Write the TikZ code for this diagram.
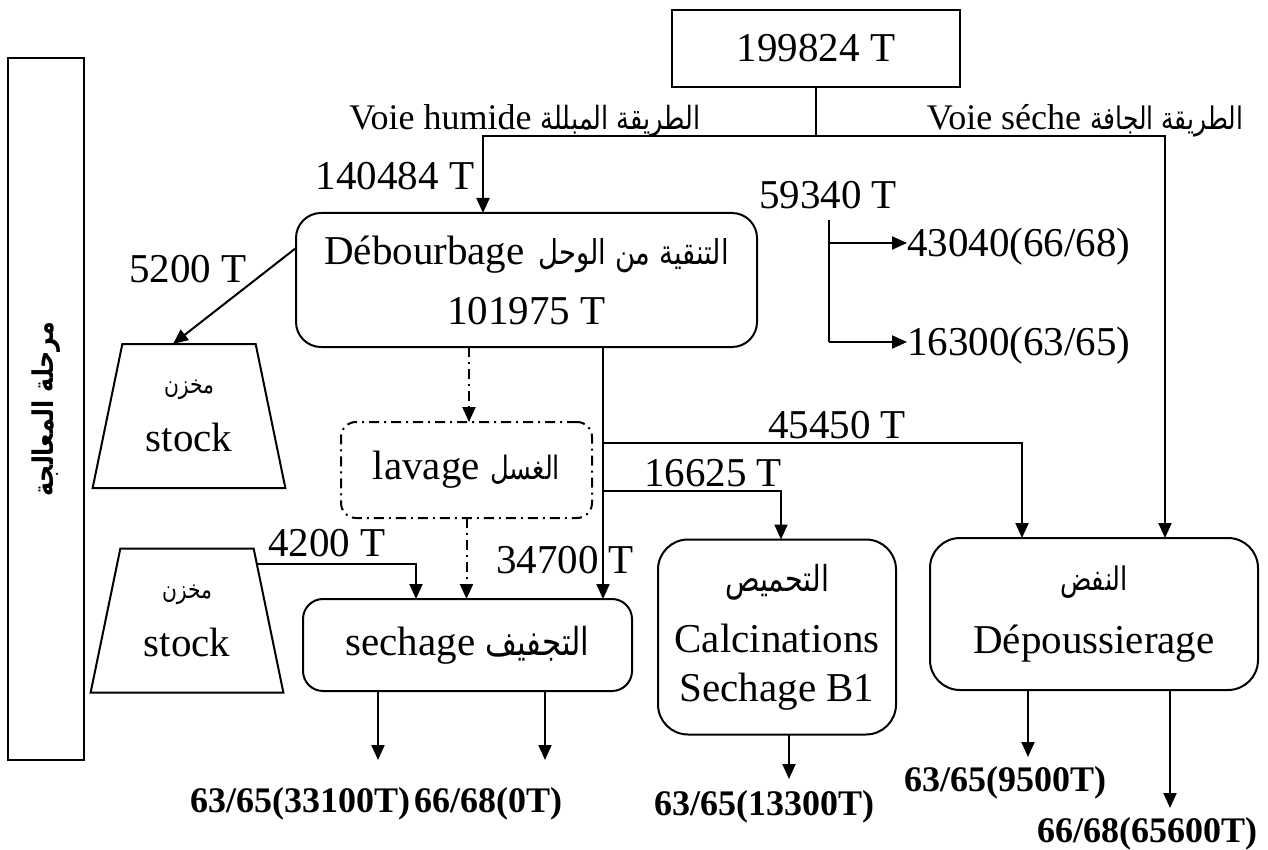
\documentclass[tikz,border=0pt]{standalone}
\usepackage{fontspec}
\usepackage{graphicx}
\setmainfont{Liberation Serif}
\newfontfamily\arabicfont[Script=Arabic]{DejaVu Sans}
\TeXXeTstate=1
\usetikzlibrary{arrows.meta,shapes.geometric,calc}
\newcommand\artxt[2]{\resizebox{#1}{!}{\scalebox{1}[1.25]{\arabicfont\beginR #2\endR}}}
\newcommand\artxtb[2]{\resizebox{#1}{!}{\scalebox{1}[1.2]{\arabicfont\bfseries\beginR #2\endR}}}
\begin{document}
\begin{tikzpicture}[x=1pt,y=-1pt,
  every node/.style={inner sep=0pt,outer sep=0pt},
  big/.style={font=\fontsize{41}{48}\selectfont},
  biglab/.style={big,text height=27pt,text depth=0pt},
  midlab/.style={font=\fontsize{36}{42}\selectfont,text height=24pt,text depth=0pt},
  reslab/.style={font=\fontsize{36}{42}\selectfont\bfseries,text height=24pt,text depth=0pt},
  line/.style={line width=2pt},
  arr/.style={line width=2pt,-{Triangle[length=15pt,width=13pt]}},
  dd/.style={line width=2pt,dash pattern=on 10pt off 5pt on 2pt off 5pt},
  box/.style={draw,line width=2pt,rounded corners=25pt,align=center},
  stockbox/.style={draw,line width=2pt,trapezium,trapezium stretches=true,
    trapezium left angle=75,trapezium right angle=75,minimum width=193pt,
    minimum height=144pt,align=center,font=\fontsize{41}{58}\selectfont}]
\useasboundingbox (0,0) rectangle (1268,850);

% left vertical box
\node[draw,line width=2pt,rotate=90,minimum width=702pt,minimum height=76pt] (lb) at (46,409) {\artxtb{175pt}{مرحلة المعالجة}};

% top box
\node[draw,line width=2pt,minimum width=288pt,minimum height=77pt,big] (top) at (816,48.5) {199824 T};

% process boxes
\node[box,minimum width=461pt,minimum height=134pt,font=\fontsize{41}{60}\selectfont] (deb) at (526.5,280) {Débourbage\hspace{14pt}\artxt{190pt}{التنقية من الوحل}\\101975 T};
\node[draw,dd,rounded corners=15pt,minimum width=251pt,minimum height=96pt,big] (lav) at (466.5,470) {lavage \artxt{70pt}{الغسل}};
\node[box,rounded corners=20pt,minimum width=329pt,minimum height=92pt,big] (sech) at (467.5,645) {sechage \artxt{104pt}{التجفيف}};
\node[box,rounded corners=30pt,minimum width=238pt,minimum height=195pt,font=\fontsize{41}{49}\selectfont] (calc) at (777,637) {\artxt{104pt}{التحميص}\\[12pt]Calcinations\\Sechage B1};
\node[box,rounded corners=30pt,minimum width=328pt,minimum height=152pt,font=\fontsize{41}{63}\selectfont] (dep) at (1094,614) {\artxt{68pt}{النفض}\\Dépoussierage};

% stocks
\node[stockbox] (st1) at (189,416) {\artxt{50pt}{مخزن}\\stock};
\node[stockbox] (st2) at (187,620.5) {\artxt{50pt}{مخزن}\\stock};

% labels
\node[midlab] (vh) at (525,118) {Voie humide \artxt{160pt}{الطريقة المبللة}};
\node[midlab] (vs) at (1085,118) {Voie séche \artxt{153pt}{الطريقة الجافة}};
\node[biglab] (L140) at (395,176) {140484 T};
\node[biglab] (L5200) at (188,269) {5200 T};
\node[biglab] (L59340) at (828,195) {59340 T};
\node[biglab,anchor=west] (L43040) at (907,243) {43040(66/68)};
\node[biglab,anchor=west] (L16300) at (907,342) {16300(63/65)};
\node[biglab] (L45450) at (837,425) {45450 T};
\node[biglab] (L16625) at (713,473) {16625 T};
\node[biglab] (L34700) at (565,560) {34700 T};
\node[biglab] (L4200) at (327,543) {4200 T};
\node[reslab] (o1) at (300,800) {63/65(33100T)};
\node[reslab] (o2) at (488,800) {66/68(0T)};
\node[reslab] (o3) at (764,803) {63/65(13300T)};
\node[reslab] (o4) at (1005,779) {63/65(9500T)};
\node[reslab] (o5) at (1147,830) {66/68(65600T)};

% connectors
\coordinate (jn) at (816,136);
\draw[line] (top.south) -- (jn);
\draw[arr] (jn) -| ([xshift=-43.5pt]deb.north);
\draw[arr] (jn) -| ([xshift=71pt]dep.north);

\draw[arr] ([yshift=32pt]deb.west) -- ([xshift=-16pt]st1.north);

\draw[dd,-{Triangle[length=15pt,width=13pt]}] ([xshift=-57.5pt]deb.south) -- ([xshift=-57.5pt]deb.south |- lav.north);
\draw[dd,-{Triangle[length=15pt,width=13pt]}] (lav.south) -- (lav.south |- sech.north);

\coordinate (v0) at ([xshift=76.5pt]deb.south);
\draw[arr] (v0) -- (v0 |- sech.north);
\coordinate (b1) at (603,443);
\coordinate (b2) at (603,491);
\draw[arr] (b1) -| ([xshift=-72pt]dep.north);
\draw[arr] (b2) -| ([xshift=4pt]calc.north);

\coordinate (p42) at ($(st2.top right corner)!0.11!(st2.bottom right corner)$);
\draw[arr] (p42) -| ([xshift=-51.5pt]sech.north);

\coordinate (c59) at (829,220);
\coordinate (c43) at (829,243);
\coordinate (c63) at (829,342);
\draw[line] (c59) -- (c63);
\draw[arr] (c43) -- (L43040.west);
\draw[arr] (c63) -- (L16300.west);

\coordinate (e1) at (378,760);
\coordinate (e2) at (545,760);
\coordinate (e3) at (789,779);
\coordinate (e4) at (1028,757);
\coordinate (e5) at (1170,808);
\draw[arr] (e1 |- sech.south) -- (e1);
\draw[arr] (e2 |- sech.south) -- (e2);
\draw[arr] (e3 |- calc.south) -- (e3);
\draw[arr] (e4 |- dep.south) -- (e4);
\draw[arr] (e5 |- dep.south) -- (e5);
\end{tikzpicture}
\end{document}
